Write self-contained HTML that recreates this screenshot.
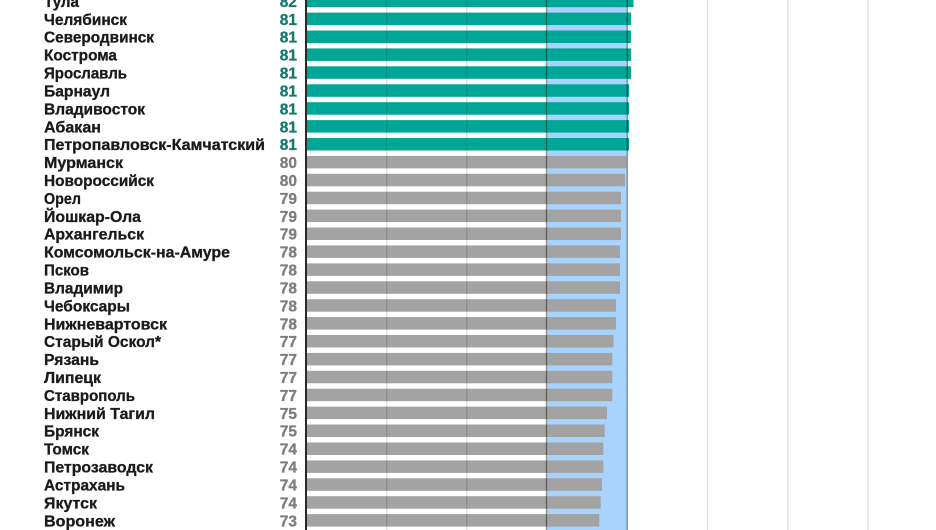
<!DOCTYPE html>
<html>
<head>
<meta charset="utf-8">
<style>
  html, body { margin:0; padding:0; background:#fff; }
  body { width:936px; height:530px; overflow:hidden; }
  svg { display:block; }
  text { font-family: "Liberation Sans", "DejaVu Sans", sans-serif; font-weight:bold; font-size:15.5px; stroke-width:0.3px; }
</style>
</head>
<body>
<svg width="936" height="530" viewBox="0 0 936 530" xmlns="http://www.w3.org/2000/svg">
  <rect x="0" y="0" width="936" height="530" fill="#fff"/>
  <!-- blue band 60..80 -->
  <rect x="547" y="0" width="80" height="530" fill="#a8d3fc"/>
  <!-- light gridlines on white -->
  <g stroke="#dcdcdc" stroke-width="1.2">
    <line x1="707.5" y1="0" x2="707.5" y2="530"/>
    <line x1="787.8" y1="0" x2="787.8" y2="530"/>
    <line x1="868" y1="0" x2="868" y2="530"/>
  </g>
  <!-- bars -->
  <g>
    <rect x="307" y="-5.3" width="326.5" height="12.5" fill="#00a796"/>
    <rect x="307" y="12.6" width="324" height="12.5" fill="#00a796"/>
    <rect x="307" y="30.5" width="324" height="12.5" fill="#00a796"/>
    <rect x="307" y="48.4" width="324" height="12.5" fill="#00a796"/>
    <rect x="307" y="66.3" width="324" height="12.5" fill="#00a796"/>
    <rect x="307" y="84.3" width="322" height="12.5" fill="#00a796"/>
    <rect x="307" y="102.2" width="322" height="12.5" fill="#00a796"/>
    <rect x="307" y="120.1" width="322" height="12.5" fill="#00a796"/>
    <rect x="307" y="138.0" width="322" height="12.5" fill="#00a796"/>
    <rect x="307" y="155.9" width="319.5" height="12.5" fill="#a3a3a3"/>
    <rect x="307" y="173.8" width="318" height="12.5" fill="#a3a3a3"/>
    <rect x="307" y="191.7" width="314" height="12.5" fill="#a3a3a3"/>
    <rect x="307" y="209.6" width="314" height="12.5" fill="#a3a3a3"/>
    <rect x="307" y="227.5" width="314" height="12.5" fill="#a3a3a3"/>
    <rect x="307" y="245.4" width="313" height="12.5" fill="#a3a3a3"/>
    <rect x="307" y="263.4" width="313" height="12.5" fill="#a3a3a3"/>
    <rect x="307" y="281.3" width="313" height="12.5" fill="#a3a3a3"/>
    <rect x="307" y="299.2" width="309" height="12.5" fill="#a3a3a3"/>
    <rect x="307" y="317.1" width="309" height="12.5" fill="#a3a3a3"/>
    <rect x="307" y="335.0" width="306.5" height="12.5" fill="#a3a3a3"/>
    <rect x="307" y="352.9" width="305.3" height="12.5" fill="#a3a3a3"/>
    <rect x="307" y="370.8" width="305.3" height="12.5" fill="#a3a3a3"/>
    <rect x="307" y="388.7" width="305.3" height="12.5" fill="#a3a3a3"/>
    <rect x="307" y="406.6" width="300" height="12.5" fill="#a3a3a3"/>
    <rect x="307" y="424.5" width="297.7" height="12.5" fill="#a3a3a3"/>
    <rect x="307" y="442.5" width="296.3" height="12.5" fill="#a3a3a3"/>
    <rect x="307" y="460.4" width="296.3" height="12.5" fill="#a3a3a3"/>
    <rect x="307" y="478.3" width="295" height="12.5" fill="#a3a3a3"/>
    <rect x="307" y="496.2" width="293.7" height="12.5" fill="#a3a3a3"/>
    <rect x="307" y="514.1" width="292.3" height="12.5" fill="#a3a3a3"/>
  </g>
  <!-- gridlines over bars -->
  <g stroke="rgba(0,0,0,0.14)" stroke-width="1.2">
    <line x1="386.7" y1="0" x2="386.7" y2="530"/>
    <line x1="466.8" y1="0" x2="466.8" y2="530"/>
  </g>
  <g stroke="rgba(0,0,0,0.42)" stroke-width="1.4">
    <line x1="546.5" y1="0" x2="546.5" y2="530"/>
    <line x1="627.3" y1="0" x2="627.3" y2="530"/>
  </g>
  <!-- axis -->
  <line x1="306" y1="0" x2="306" y2="530" stroke="#111" stroke-width="1.8"/>

  <!-- labels -->
  <g fill="#1a1a1a" stroke="#1a1a1a">
    <text x="44" y="6.9" textLength="35" lengthAdjust="spacingAndGlyphs">Тула</text>
    <text x="44" y="24.8" textLength="83" lengthAdjust="spacingAndGlyphs">Челябинск</text>
    <text x="44" y="42.7" textLength="110" lengthAdjust="spacingAndGlyphs">Северодвинск</text>
    <text x="44" y="60.6" textLength="73" lengthAdjust="spacingAndGlyphs">Кострома</text>
    <text x="44" y="78.5" textLength="83" lengthAdjust="spacingAndGlyphs">Ярославль</text>
    <text x="44" y="96.5" textLength="66" lengthAdjust="spacingAndGlyphs">Барнаул</text>
    <text x="44" y="114.4" textLength="101" lengthAdjust="spacingAndGlyphs">Владивосток</text>
    <text x="44" y="132.3" textLength="57" lengthAdjust="spacingAndGlyphs">Абакан</text>
    <text x="44" y="150.2" textLength="221" lengthAdjust="spacingAndGlyphs">Петропавловск-Камчатский</text>
    <text x="44" y="168.1" textLength="79" lengthAdjust="spacingAndGlyphs">Мурманск</text>
    <text x="44" y="186.0" textLength="110" lengthAdjust="spacingAndGlyphs">Новороссийск</text>
    <text x="44" y="203.9" textLength="37" lengthAdjust="spacingAndGlyphs">Орел</text>
    <text x="44" y="221.8" textLength="97" lengthAdjust="spacingAndGlyphs">Йошкар-Ола</text>
    <text x="44" y="239.7" textLength="100" lengthAdjust="spacingAndGlyphs">Архангельск</text>
    <text x="44" y="257.6" textLength="186" lengthAdjust="spacingAndGlyphs">Комсомольск-на-Амуре</text>
    <text x="44" y="275.6" textLength="45" lengthAdjust="spacingAndGlyphs">Псков</text>
    <text x="44" y="293.5" textLength="79" lengthAdjust="spacingAndGlyphs">Владимир</text>
    <text x="44" y="311.4" textLength="86" lengthAdjust="spacingAndGlyphs">Чебоксары</text>
    <text x="44" y="329.3" textLength="123" lengthAdjust="spacingAndGlyphs">Нижневартовск</text>
    <text x="44" y="347.2" textLength="117" lengthAdjust="spacingAndGlyphs">Старый Оскол*</text>
    <text x="44" y="365.1" textLength="55" lengthAdjust="spacingAndGlyphs">Рязань</text>
    <text x="44" y="383.0" textLength="57" lengthAdjust="spacingAndGlyphs">Липецк</text>
    <text x="44" y="400.9" textLength="91" lengthAdjust="spacingAndGlyphs">Ставрополь</text>
    <text x="44" y="418.8" textLength="111" lengthAdjust="spacingAndGlyphs">Нижний Тагил</text>
    <text x="44" y="436.7" textLength="55" lengthAdjust="spacingAndGlyphs">Брянск</text>
    <text x="44" y="454.7" textLength="45" lengthAdjust="spacingAndGlyphs">Томск</text>
    <text x="44" y="472.6" textLength="109" lengthAdjust="spacingAndGlyphs">Петрозаводск</text>
    <text x="44" y="490.5" textLength="81" lengthAdjust="spacingAndGlyphs">Астрахань</text>
    <text x="44" y="508.4" textLength="53" lengthAdjust="spacingAndGlyphs">Якутск</text>
    <text x="44" y="526.3" textLength="71" lengthAdjust="spacingAndGlyphs">Воронеж</text>
  </g>

  <!-- values -->
  <g text-anchor="end">
    <g fill="#137b6d" stroke="#137b6d">
      <text x="297" y="6.9">82</text>
      <text x="297" y="24.8">81</text>
      <text x="297" y="42.7">81</text>
      <text x="297" y="60.6">81</text>
      <text x="297" y="78.5">81</text>
      <text x="297" y="96.5">81</text>
      <text x="297" y="114.4">81</text>
      <text x="297" y="132.3">81</text>
      <text x="297" y="150.2">81</text>
    </g>
    <g fill="#7d7d7d" stroke="#7d7d7d">
      <text x="297" y="168.1">80</text>
      <text x="297" y="186.0">80</text>
      <text x="297" y="203.9">79</text>
      <text x="297" y="221.8">79</text>
      <text x="297" y="239.7">79</text>
      <text x="297" y="257.6">78</text>
      <text x="297" y="275.6">78</text>
      <text x="297" y="293.5">78</text>
      <text x="297" y="311.4">78</text>
      <text x="297" y="329.3">78</text>
      <text x="297" y="347.2">77</text>
      <text x="297" y="365.1">77</text>
      <text x="297" y="383.0">77</text>
      <text x="297" y="400.9">77</text>
      <text x="297" y="418.8">75</text>
      <text x="297" y="436.7">75</text>
      <text x="297" y="454.7">74</text>
      <text x="297" y="472.6">74</text>
      <text x="297" y="490.5">74</text>
      <text x="297" y="508.4">74</text>
      <text x="297" y="526.3">73</text>
    </g>
  </g>
</svg>
</body>
</html>
